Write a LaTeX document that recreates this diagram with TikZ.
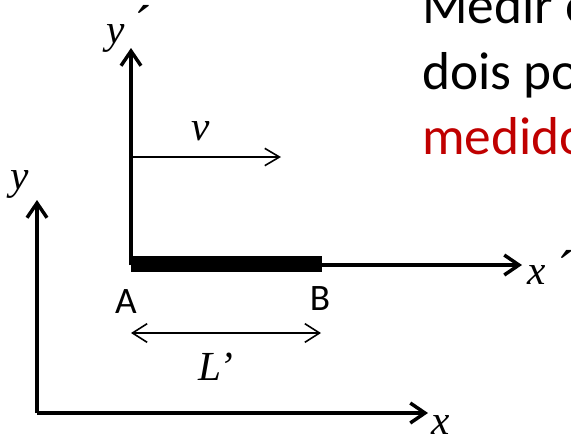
\documentclass[tikz,border=0pt]{standalone}
\usepackage{fontspec}
\setmainfont{Liberation Serif}
\newfontfamily\calfont{Carlito}
\usetikzlibrary{arrows.meta}
\definecolor{myred}{HTML}{C00000}
\begin{document}
\begin{tikzpicture}[x=0.75pt,y=-0.75pt,
  axis/.style={line width=2.6pt,-{Straight Barb[length=11pt,width=15pt,line width=2.6pt]}},
  thin/.style={line width=1.2pt,-{Straight Barb[length=11pt,width=13pt,line width=1.2pt]}},
  dbl/.style={line width=1.2pt,{Straight Barb[length=11pt,width=14pt,line width=1.2pt]}-{Straight Barb[length=11pt,width=14pt,line width=1.2pt]}},
  lab/.style={font=\fontsize{31}{31}\selectfont\itshape,inner sep=0pt},
  prm/.style={font=\fontsize{40}{40}\selectfont,inner sep=0pt,anchor=base},
  ab/.style={font=\calfont\fontsize{28}{28}\selectfont,inner sep=0pt},
  big/.style={font=\calfont\fontsize{40}{40}\selectfont,inner sep=0pt,anchor=base west}]
\useasboundingbox (0,0) rectangle (571,440);
% primed frame
\coordinate (Op) at (131,265);
\coordinate (Yp) at (131,48);
\coordinate (Xp) at (522,265);
\draw[axis] (Op) -- (Yp);
\draw[axis] (Op) -- (Xp);
% rod
\coordinate (A) at (131,264);
\coordinate (B) at (322,264);
\draw[line width=12pt] (A) -- (B);
% unprimed frame
\coordinate (O) at (37,413);
\coordinate (Y) at (37,200);
\coordinate (X) at (428,413);
\draw[axis] (O) -- (Y);
\draw[axis] (O) -- (X);
% velocity arrow
\coordinate (v0) at (132,157);
\coordinate (v1) at (281,157);
\draw[thin] (v0) -- (v1);
\node[lab] (vl) at (201,131) {v};
% length arrow
\coordinate (L0) at (131,333);
\coordinate (L1) at (321,333);
\draw[dbl] (L0) -- (L1);
\node[lab] (Ll) at (216,367) {L’};
% labels
\node[ab] (Al) at (126,302) {A};
\node[ab] (Bl) at (320,299) {B};
\node[lab] (ypl) at (116,38) {y};
\node[prm] (ypp) at (143,42) {´};
\node[lab] (xpl) at (537,275) {x};
\node[prm] (xpp) at (566,287) {´};
\node[lab] (yl) at (20,184) {y};
\node[lab] (xl) at (441,425) {x};
% text
\node[big] (t1) at (422,23) {Medir o};
\node[big] (t2) at (422,89) {dois pontos};
\node[big,text=myred] (t3) at (422,154) {medido};
\end{tikzpicture}
\end{document}
